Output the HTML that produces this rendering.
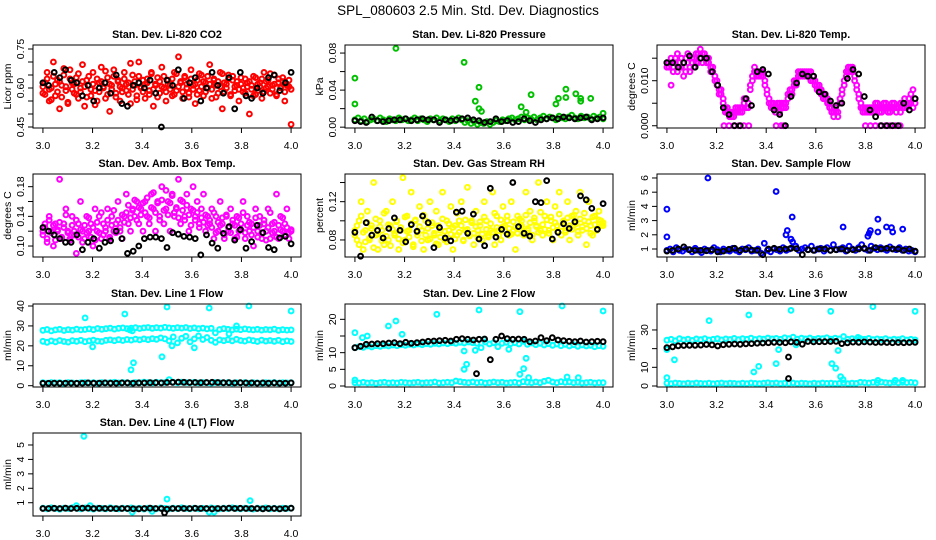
<!DOCTYPE html>
<html><head><meta charset="utf-8">
<style>
html,body{margin:0;padding:0;background:#fff;}
svg{display:block;font-family:"Liberation Sans",sans-serif;}
</style></head>
<body>
<svg id="chart" width="936" height="540" viewBox="0 0 936 540" xmlns="http://www.w3.org/2000/svg">
<rect x="0" y="0" width="936" height="540" fill="#fff"/>
<text x="468" y="15" text-anchor="middle" font-size="13.5">SPL_080603  2.5 Min. Std. Dev. Diagnostics</text>
</svg>
<script>
// ---------- data ----------
const xTicks=[3.0,3.2,3.4,3.6,3.8,4.0];
const xTickLabels=["3.0","3.2","3.4","3.6","3.8","4.0"];

const co2Red=[0.58,0.62,0.66,0.55,0.60,0.70,0.57,0.63,0.52,0.61,0.65,0.59,0.54,0.67,0.62,0.58,0.64,0.56,0.60,0.69,0.53,0.63,0.61,0.57,0.66,0.59,0.55,0.62,0.68,0.60,0.56,0.64,0.51,0.61,0.67,0.58,0.63,0.55,0.60,0.66,0.59,0.62,0.54,0.65,0.61,0.57,0.70,0.60,0.63,0.56,0.62,0.59,0.66,0.53,0.61,0.64,0.58,0.68,0.60,0.55,0.63,0.61,0.57,0.66,0.59,0.72,0.62,0.56,0.64,0.60,0.58,0.67,0.61,0.54,0.63,0.59,0.65,0.57,0.62,0.60,0.69,0.56,0.63,0.61,0.58,0.66,0.52,0.62,0.60,0.65,0.57,0.63,0.59,0.61,0.55,0.64,0.60,0.58,0.62,0.50,0.61,0.57,0.64,0.59,0.62,0.56,0.66,0.60,0.63,0.58,0.61,0.65,0.57,0.62,0.60,0.64,0.55,0.61,0.63,0.46];
const co2Red2=[0.605,0.575,0.635,0.595,0.555,0.645,0.615,0.585,0.625,0.565,0.675,0.605,0.545,0.635,0.595,0.615,0.575,0.655,0.585,0.625,
0.605,0.565,0.645,0.595,0.615,0.535,0.635,0.585,0.625,0.605,0.665,0.575,0.615,0.595,0.645,0.565,0.625,0.605,0.585,0.635,
0.615,0.575,0.695,0.595,0.625,0.555,0.645,0.605,0.585,0.615,0.635,0.575,0.655,0.595,0.615,0.565,0.625,0.605,0.645,0.585,
0.615,0.595,0.635,0.575,0.655,0.605,0.625,0.585,0.645,0.615,0.565,0.635,0.595,0.615,0.575,0.655,0.605,0.625,0.585,0.645,
0.615,0.595,0.635,0.565,0.625,0.605,0.655,0.585,0.615,0.635,0.575,0.645,0.605,0.625,0.595,0.615,0.585,0.635,0.605,0.625,
0.595,0.645,0.575,0.615,0.605,0.635,0.585,0.625,0.605,0.655,0.595,0.615,0.575,0.635,0.605,0.625,0.585,0.615,0.605,0.595];
const co2Black=[0.62,0.61,0.66,0.64,0.67,0.63,0.62,0.57,0.61,0.55,0.60,0.62,0.58,0.65,0.54,0.53,0.61,0.62,0.60,0.63,0.58,0.45,0.63,0.61,0.67,0.56,0.62,0.64,0.55,0.60,0.66,0.61,0.58,0.64,0.52,0.66,0.57,0.56,0.60,0.58,0.64,0.65,0.59,0.62,0.66];

const presGreen=[0.008,0.010,0.007,0.009,0.006,0.008,0.009,0.007,0.010,0.008,0.006,0.009,0.008,0.007,0.010,0.008,0.009,0.007,0.008,0.010,0.007,0.009,0.008,0.006,0.009,0.008,0.010,0.007,0.009,0.008,0.006,0.009,0.007,0.010,0.008,0.005,0.007,0.004,0.006,0.003,0.005,0.004,0.006,0.003,0.005,0.007,0.006,0.008,0.007,0.009,0.010,0.008,0.009,0.011,0.008,0.010,0.009,0.011,0.008,0.010,0.012,0.009,0.011,0.010,0.008,0.012,0.010,0.009,0.011,0.013,0.010,0.009,0.012,0.010,0.011,0.009,0.012,0.010,0.011,0.009];
const presOutX=[3.0,3.0,3.165,3.44,3.485,3.50,3.50,3.51,3.67,3.69,3.71,3.81,3.82,3.85,3.85,3.89,3.91,3.91,3.95,4.0];
const presOutY=[0.053,0.025,0.085,0.070,0.028,0.043,0.020,0.017,0.022,0.016,0.035,0.025,0.031,0.041,0.032,0.036,0.031,0.028,0.031,0.015];
const presBlack=[0.007,0.006,0.005,0.011,0.007,0.006,0.007,0.008,0.008,0.009,0.007,0.008,0.009,0.008,0.008,0.005,0.008,0.007,0.008,0.009,0.010,0.008,0.007,0.005,0.006,0.009,0.006,0.007,0.005,0.006,0.009,0.007,0.005,0.008,0.009,0.010,0.009,0.011,0.010,0.009,0.010,0.011,0.008,0.009,0.010];

const tempMag=[0.013,0.014,0.009,0.013,0.015,0.012,0.014,0.013,0.011,0.015,0.014,0.012,0.015,0.013,0.016,0.014,0.015,0.016,0.015,
0.015,0.014,0.013,0.012,0.011,0.009,0.008,0.007,0.005,0.004,0.003,0.002,
0.003,0.002,0.003,0.004,0.003,0.004,
0.005,0.006,0.004,0.008,0.010,0.012,0.012,0.011,0.012,
0.011,0.010,0.008,0.005,0.004,
0.005,0.003,0.004,0.005,0.004,0.005,0.004,
0.006,0.007,0.008,0.010,0.009,0.011,0.012,0.011,
0.012,0.011,0.012,0.010,0.011,0.009,0.008,0.009,0.007,
0.006,0.007,0.005,0.004,0.003,0.003,0.004,0.002,
0.005,0.007,0.009,0.011,0.012,0.013,0.012,0.010,
0.009,0.006,0.004,0.003,0.003,0.004,0.003,
0.004,0.003,0.005,0.004,0.003,0.004,0.005,0.004,0.003,0.004,0.005,0.004,0.003,0.004,0.005,0.004,0.006,0.004,0.005,0.007,0.004,0.005];
const tempMag2=[0.014,0.013,0.015,0.012,0.014,0.016,0.013,0.015,0.014,0.012,0.016,0.013,0.014,0.015,0.014,0.016,0.017,0.014,0.016,
0.014,0.015,0.012,0.013,0.010,0.010,0.007,0.008,0.006,0.003,0.004,0.003,
0.002,0.003,0.004,0.003,0.004,0.003,
0.006,0.004,0.005,0.009,0.011,0.013,0.011,0.012,0.011,
0.012,0.009,0.007,0.006,0.005,
0.004,0.004,0.005,0.003,0.005,0.004,0.005,
0.007,0.008,0.007,0.009,0.010,0.012,0.011,0.012,
0.011,0.012,0.011,0.012,0.010,0.010,0.009,0.008,0.008,
0.007,0.006,0.006,0.005,0.004,0.002,0.003,0.003,
0.006,0.008,0.010,0.012,0.013,0.012,0.013,0.011,
0.008,0.007,0.005,0.004,0.004,0.003,0.004,
0.003,0.004,0.004,0.005,0.004,0.003,0.004,0.005,0.004,0.003,0.004,0.005,0.004,0.004,0.003,0.005,0.004,0.005,0.006,0.005,0.008,0.006];
const tempZeroX=[3.23,3.25,3.27,3.29,3.31,3.33,3.44,3.46,3.47,3.80,3.82,3.84,3.86,3.88,3.90,3.92,3.94];
const tempBlack=[0.014,0.014,0.013,0.014,0.0155,0.013,0.015,0.015,0.012,0.009,0.004,0.0025,0,0,0.006,0.0045,0.012,0.0125,0.0115,0.0035,0.0025,0,0.0065,0.0095,0.0115,0.011,0.011,0.0075,0.007,0.0055,0.0045,0.005,0.0105,0.0125,0.0115,0.0065,0.0035,0.002,0,0,0,0,0.005,0.0035,0.006];

const ambMag=[0.12,0.13,0.11,0.14,0.12,0.10,0.13,0.12,0.19,0.11,0.13,0.15,0.12,0.11,0.14,0.12,0.09,0.13,0.16,0.12,0.11,0.14,0.12,0.13,0.10,0.15,0.12,0.14,0.11,0.13,0.12,0.15,0.11,0.14,0.12,0.13,0.16,0.12,0.11,0.14,
0.17,0.13,0.12,0.15,0.14,0.16,0.13,0.15,0.12,0.16,0.14,0.13,0.17,0.15,0.12,0.16,0.14,0.18,0.13,0.15,0.16,0.12,0.17,0.14,0.15,0.19,0.13,0.16,0.14,0.17,0.12,0.15,0.18,0.14,0.16,0.13,0.15,0.17,0.12,0.14,
0.13,0.15,0.11,0.14,0.12,0.16,0.13,0.11,0.14,0.12,0.15,0.13,0.11,0.14,0.12,0.13,0.16,0.11,0.14,0.12,0.13,0.10,0.15,0.12,0.14,0.11,0.13,0.12,0.15,0.11,0.13,0.12,0.17,0.11,0.14,0.12,0.13,0.15,0.11,0.12];
const ambMag2=[0.115,0.125,0.105,0.135,0.118,0.128,0.108,0.122,0.132,0.112,0.125,0.142,0.118,0.108,0.128,0.115,0.135,0.112,0.122,0.105,
0.128,0.118,0.138,0.112,0.125,0.108,0.132,0.118,0.145,0.115,0.125,0.135,0.112,0.128,0.148,0.118,0.135,0.125,0.142,0.132,
0.145,0.155,0.138,0.148,0.162,0.135,0.152,0.142,0.158,0.145,0.165,0.138,0.152,0.172,0.145,0.158,0.135,0.162,0.148,0.175,
0.142,0.158,0.168,0.145,0.152,0.138,0.162,0.148,0.135,0.155,0.142,0.128,0.148,0.135,0.145,0.125,0.138,0.132,0.142,0.128,
0.135,0.125,0.145,0.118,0.132,0.128,0.138,0.115,0.142,0.125,0.118,0.135,0.128,0.112,0.138,0.122,0.145,0.118,0.128,0.132,
0.115,0.125,0.138,0.112,0.128,0.118,0.135,0.108,0.125,0.145,0.118,0.132,0.112,0.128,0.122,0.138,0.115,0.125,0.118,0.122];
const ambBlack=[0.125,0.12,0.115,0.11,0.105,0.105,0.115,0.095,0.105,0.11,0.097,0.105,0.107,0.12,0.11,0.09,0.093,0.10,0.11,0.112,0.112,0.11,0.098,0.118,0.116,0.113,0.112,0.11,0.088,0.115,0.104,0.097,0.117,0.126,0.108,0.122,0.097,0.106,0.128,0.118,0.098,0.095,0.111,0.113,0.103];

const rhYellow=[0.09,0.08,0.10,0.12,0.07,0.09,0.11,0.08,0.095,0.14,0.085,0.07,0.10,0.09,0.075,0.11,0.08,0.095,0.12,0.085,
0.10,0.07,0.09,0.145,0.08,0.105,0.09,0.13,0.075,0.10,0.085,0.115,0.09,0.07,0.10,0.08,0.12,0.095,0.085,0.11,
0.075,0.09,0.13,0.08,0.10,0.09,0.115,0.07,0.095,0.085,0.10,0.12,0.08,0.09,0.135,0.085,0.10,0.075,0.11,0.09,
0.095,0.08,0.12,0.10,0.085,0.09,0.13,0.075,0.105,0.09,0.08,0.115,0.095,0.10,0.085,0.12,0.09,0.07,0.105,0.095,
0.10,0.085,0.13,0.09,0.11,0.08,0.10,0.095,0.14,0.09,0.085,0.105,0.12,0.09,0.10,0.08,0.115,0.095,0.13,0.085,
0.10,0.09,0.12,0.08,0.105,0.095,0.11,0.085,0.13,0.09,0.10,0.075,0.12,0.095,0.085,0.105,0.09,0.11,0.10,0.095];
const rhYellow2=[0.085,0.095,0.075,0.105,0.088,0.078,0.098,0.082,0.092,0.072,0.102,0.086,0.094,0.079,0.108,0.084,0.096,0.074,0.091,0.087,
0.099,0.081,0.093,0.077,0.104,0.089,0.083,0.097,0.073,0.101,0.088,0.094,0.079,0.106,0.085,0.092,0.081,0.098,0.087,0.076,
0.095,0.083,0.102,0.089,0.078,0.097,0.086,0.093,0.081,0.108,0.088,0.095,0.079,0.101,0.091,0.084,0.098,0.087,0.094,0.082,
0.099,0.086,0.104,0.091,0.083,0.097,0.088,0.108,0.093,0.085,0.101,0.094,0.089,0.105,0.092,0.086,0.099,0.093,0.087,0.102,
0.095,0.089,0.106,0.092,0.098,0.085,0.103,0.094,0.088,0.109,0.096,0.091,0.101,0.087,0.104,0.093,0.098,0.089,0.107,0.094,
0.099,0.088,0.103,0.095,0.091,0.106,0.097,0.089,0.102,0.094,0.108,0.092,0.099,0.087,0.104,0.096,0.091,0.101,0.095,0.098];
const rhBlack=[0.088,0.063,0.098,0.085,0.09,0.082,0.092,0.103,0.09,0.078,0.096,0.089,0.105,0.098,0.072,0.093,0.082,0.079,0.109,0.11,0.087,0.107,0.081,0.074,0.134,0.083,0.091,0.086,0.14,0.094,0.087,0.084,0.12,0.119,0.142,0.081,0.088,0.097,0.092,0.099,0.126,0.122,0.113,0.091,0.118];

const flowBlue=[0.9,1.0,0.8,1.1,0.9,0.85,1.0,0.95,0.8,1.05,0.9,0.75,1.0,0.9,0.85,1.1,0.95,0.8,1.0,0.9,0.85,1.05,0.9,0.8,1.0,0.95,1.1,0.85,0.9,1.0,0.7,1.4,0.9,0.8,1.0,0.95,0.85,1.1,0.9,1.0,1.5,1.2,0.9,1.0,1.1,0.95,1.2,0.9,1.0,1.05,0.85,1.1,0.9,1.3,0.95,1.0,1.1,0.85,1.2,1.0,0.9,1.1,1.3,1.0,0.9,1.2,1.05,0.95,1.1,1.0,0.9,1.15,1.0,0.95,1.1,0.9,1.0,0.85,0.9,0.8];
const flowOutX=[3.0,3.0,3.165,3.44,3.48,3.485,3.50,3.505,3.71,3.81,3.815,3.82,3.85,3.85,3.885,3.905,3.91,3.95];
const flowOutY=[3.8,1.85,6.0,5.05,2.0,2.3,1.7,3.25,2.55,1.9,2.1,2.3,3.1,2.2,2.55,2.5,2.2,2.4];
const flowBlack=[0.85,0.9,1.0,1.15,0.95,0.9,0.9,0.88,0.95,0.8,0.85,0.98,1.05,0.9,1.0,0.93,0.9,0.6,1.0,1.05,0.98,1.0,1.05,1.02,0.6,0.95,0.9,1.0,1.0,0.9,0.95,1.0,0.9,0.95,1.0,1.05,0.9,1.1,1.0,1.05,1.0,1.0,0.9,1.0,0.85];

const l1Top=[27.8,28.2,27.5,28.0,28.3,27.7,28.1,27.9,28.4,28.0,28.2,28.5,28.1,28.7,28.3,28.6,28.9,28.4,28.8,29.0,28.6,28.9,29.1,28.7,29.0,29.2,28.8,29.1,28.9,29.3,29.0,28.8,29.1,28.9,29.2,28.7,29.0,28.6,28.9,28.5,28.8,26.5,28.2,28.6,28.3,28.0,28.4,28.1,28.5,28.2,28.0,28.3,27.9,28.2,28.0,28.4,27.8,28.1,27.9,28.0];
const l1Mid=[22.3,21.8,22.5,22.0,22.7,22.2,21.9,22.6,22.3,22.8,22.1,22.5,22.9,22.4,22.2,22.8,23.0,22.6,23.1,22.7,23.2,22.9,23.4,23.0,23.5,23.1,23.6,23.3,24.0,23.5,22.5,24.5,21.5,23.8,24.8,22.0,23.5,25.0,23.2,24.2,22.8,21.8,23.0,22.6,23.1,22.5,23.3,22.7,22.4,23.0,22.6,22.2,22.9,22.4,22.7,22.3,22.8,22.1,22.5,22.2];
const l1Low=[1.5,1.3,1.6,1.4,1.5,1.2,1.6,1.4,1.3,1.5,1.6,1.4,1.5,1.3,1.6,1.4,1.5,1.7,1.4,1.6,1.5,1.3,1.6,1.5,1.8,1.6,1.4,1.7,1.5,1.6,3.0,1.7,1.5,1.8,1.6,1.5,1.7,1.4,1.6,1.5,1.3,1.6,1.5,1.4,1.6,1.3,1.5,1.4,1.6,1.3,1.5,1.4,1.3,1.5,1.4,1.6,1.3,1.5,1.4,1.5];
const l1OutX=[3.17,3.33,3.2,3.35,3.36,3.355,3.365,3.48,3.5,3.52,3.61,3.67,3.78,3.83,4.0,3.75];
const l1OutY=[34,36,19.5,28,27.5,8,11.5,14.5,39.5,20,19,39,30,40,37.5,26];
const l1Black=[1.2,1.2,1.3,1.2,1.3,1.3,1.2,1.3,1.4,1.3,1.3,1.4,1.3,1.3,1.4,1.4,1.3,1.4,1.4,1.5,1.5,1.4,1.6,1.7,1.8,1.7,1.6,1.6,1.5,1.6,1.7,1.6,1.5,1.5,1.4,1.5,1.4,1.4,1.3,1.4,1.3,1.4,1.3,1.3,1.4];

const l2Band=[11.5,11.8,11.6,12.0,11.7,12.1,11.9,12.2,12.0,12.3,12.1,12.4,12.2,12.5,12.3,12.6,12.4,12.7,12.5,12.8,12.6,12.9,12.7,13.0,12.8,13.1,12.9,13.2,13.0,12.8,11.5,13.2,12.6,13.0,11.8,12.8,13.1,12.7,13.0,12.6,13.4,12.5,12.9,12.4,12.8,12.3,12.7,12.2,12.6,12.1,12.5,12.0,12.4,11.9,12.3,12.0,12.2,11.8,12.1,11.9];
const l2Low=[1.0,0.9,1.1,0.9,1.0,0.8,1.0,1.1,0.9,1.0,0.9,1.1,1.0,0.9,1.0,1.1,0.9,1.0,1.0,1.2,0.9,1.0,1.1,1.0,1.5,1.3,1.1,1.0,1.2,1.0,1.1,0.9,1.0,1.2,1.0,1.1,0.9,1.0,1.1,0.9,1.3,1.1,1.0,1.2,1.0,1.4,1.7,1.2,1.0,1.3,1.1,1.2,1.0,1.1,0.9,1.0,1.1,0.9,1.0,1.0];
const l2OutX=[3.0,3.03,3.05,3.135,3.165,3.19,3.33,3.44,3.44,3.45,3.485,3.5,3.52,3.62,3.665,3.665,3.68,3.69,3.70,3.835,3.855,3.9,4.0,3.0];
const l2OutY=[16,14.5,15,18,19.5,15.5,21.5,10.5,5,6.5,10.7,22.8,14,11,22.3,3.5,5.2,8.3,2.5,24,2.7,2.5,22.5,1.8];
const l2Black=[11.5,11.9,12.5,12.6,12.7,12.7,12.9,13.0,12.7,13.1,12.8,13.0,13.2,13.4,13.5,13.6,13.7,13.5,14.0,14.2,14.0,13.8,14.0,14.1,7.9,14.0,15.0,14.2,14.0,14.1,14.0,13.3,13.5,14.5,13.6,14.5,13.8,13.6,13.4,13.3,13.5,13.2,13.3,13.4,13.3];
const l2BlackOutX=[3.49];
const l2BlackOutY=[3.7];

const l3Band=[24.5,25.0,24.2,25.3,24.7,25.1,24.4,25.2,24.8,25.4,24.6,25.0,25.3,24.7,25.2,24.9,25.5,24.8,25.3,25.0,25.6,24.9,25.4,25.1,25.7,25.2,25.5,25.0,25.8,25.3,26.2,25.1,25.6,25.2,25.7,25.0,25.5,25.3,25.8,25.1,25.6,25.2,26.5,25.0,25.4,24.9,25.3,25.0,25.5,24.8,25.2,24.9,25.4,24.7,25.1,24.8,25.3,24.6,25.0,24.7];
const l3Low=[1.5,1.3,1.6,1.4,1.2,1.5,1.3,1.6,1.4,1.3,1.5,1.2,1.4,1.6,1.3,1.5,1.4,1.2,1.5,1.3,1.6,1.4,1.3,1.5,1.7,1.4,1.6,1.3,1.5,1.4,1.6,1.3,1.5,1.4,1.2,1.5,1.3,1.6,1.4,1.5,1.3,1.4,1.6,1.3,1.5,1.4,2.0,1.8,1.6,1.9,1.7,2.1,1.8,1.6,1.9,1.7,2.0,1.8,1.9,1.7];
const l3OutX=[3.0,3.0,3.03,3.17,3.33,3.35,3.37,3.44,3.45,3.5,3.52,3.66,3.665,3.68,3.69,3.70,3.71,3.77,3.83,3.85,3.92,4.0,3.95];
const l3OutY=[4.5,19.5,14,35,38,7.5,10.5,12,19.5,40.5,22,40,12,9.5,19,5,3.5,26,42.5,3,3,40,3];
const l3Black=[20.5,21.0,21.5,21.7,21.8,21.8,21.9,22.2,22.0,21.4,22.1,22.3,22.5,22.3,22.6,22.7,22.9,23.0,23.2,23.4,23.3,23.2,23.6,23.4,22.4,23.8,23.6,23.7,23.7,23.8,23.9,22.7,23.1,23.5,23.4,23.6,23.5,23.3,23.4,23.3,23.2,23.3,23.2,23.3,23.4];
const l3BlackOutX=[3.49,3.49];
const l3BlackOutY=[15.5,4];

const l4Band=[0.62,0.58,0.65,0.60,0.55,0.63,0.59,0.66,0.61,0.57,0.64,0.60,0.56,0.63,0.61,0.58,0.65,0.60,0.57,0.62,0.59,0.64,0.58,0.61,0.56,0.63,0.60,0.57,0.64,0.61,0.58,0.62,0.59,0.65,0.60,0.57,0.63,0.58,0.61,0.56,0.64,0.60,0.57,0.62,0.59,0.65,0.61,0.58,0.63,0.60,0.56,0.62,0.59,0.64,0.58,0.61,0.57,0.63,0.60,0.62];
const l4OutX=[3.165,3.5,3.835,3.135,3.19,3.36,3.44,3.67,3.69];
const l4OutY=[5.6,1.25,1.15,0.8,0.8,0.35,0.4,0.35,0.35];
const l4Black=[0.6,0.6,0.61,0.6,0.62,0.6,0.61,0.62,0.63,0.6,0.61,0.6,0.6,0.59,0.6,0.6,0.58,0.58,0.6,0.62,0.6,0.6,0.55,0.6,0.6,0.6,0.6,0.61,0.6,0.6,0.58,0.6,0.6,0.62,0.6,0.61,0.6,0.6,0.6,0.58,0.6,0.6,0.58,0.6,0.62];
const l4BlackOutX=[3.49];
const l4BlackOutY=[0.3];

// ---------- layout ----------
const SVGNS="http://www.w3.org/2000/svg";
const svg=document.getElementById('chart');
const cols=[[33,301],[345,613],[657,925]];
const rows=[[45,128],[174,257],[304,387],[433,516]];

function seq(vals){return vals.map((v,i)=>[3+i/(vals.length-1),v]);}
function pairs(xs,ys){return xs.map((x,i)=>[x,ys[i]]);}

const panels=[
 {name:'co2',title:'Stan. Dev. Li-820 CO2',yl:'Licor ppm',c:0,r:0,lo:0.4462,hi:0.7654,ticks:[0.45,0.5,0.55,0.6,0.65,0.7,0.75],labs:{0.45:'0.45',0.6:'0.60',0.75:'0.75'},
  series:[['#ff0000',seq(co2Red)],['#ff0000',seq(co2Red2)],['#000',seq(co2Black)]]},
 {name:'pressure',title:'Stan. Dev. Li-820 Pressure',yl:'kPa',c:1,r:0,lo:-0.0009,hi:0.0887,ticks:[0,0.02,0.04,0.06,0.08],labs:{0:'0.00',0.04:'0.04',0.08:'0.08'},
  series:[['#00c000',seq(presGreen)],['#00c000',pairs(presOutX,presOutY)],['#000',seq(presBlack)]]},
 {name:'temp',title:'Stan. Dev. Li-820 Temp.',yl:'degrees C',c:2,r:0,lo:-0.0005,hi:0.01793,ticks:[0,0.005,0.01,0.015],labs:{0:'0.000',0.01:'0.010'},
  series:[['#ff00ff',seq(tempMag)],['#ff00ff',seq(tempMag2)],['#ff00ff',tempZeroX.map(x=>[x,0])],['#000',seq(tempBlack)]]},
 {name:'amb-box',title:'Stan. Dev. Amb. Box Temp.',yl:'degrees C',c:0,r:1,lo:0.0852,hi:0.1971,ticks:[0.1,0.12,0.14,0.16,0.18],labs:{0.1:'0.10',0.14:'0.14',0.18:'0.18'},
  series:[['#ff00ff',seq(ambMag)],['#ff00ff',seq(ambMag2)],['#000',seq(ambBlack)]]},
 {name:'rh',title:'Stan. Dev. Gas Stream RH',yl:'percent',c:1,r:1,lo:0.0622,hi:0.1489,ticks:[0.08,0.1,0.12,0.14],labs:{0.08:'0.08',0.12:'0.12'},
  series:[['#ffff00',seq(rhYellow)],['#ffff00',seq(rhYellow2)],['#000',seq(rhBlack)]]},
 {name:'sample-flow',title:'Stan. Dev. Sample Flow',yl:'ml/min',c:2,r:1,lo:0.437,hi:6.28,ticks:[1,2,3,4,5,6],labs:{1:'1',2:'2',3:'3',4:'4',5:'5',6:'6'},
  series:[['#0000ff',seq(flowBlue)],['#0000ff',pairs(flowOutX,flowOutY)],['#000',seq(flowBlack)]]},
 {name:'line1',title:'Stan. Dev. Line 1 Flow',yl:'ml/min',c:0,r:2,lo:-0.65,hi:41,ticks:[0,10,20,30,40],labs:{0:'0',10:'10',20:'20',30:'30',40:'40'},
  series:[['#00ffff',seq(l1Top)],['#00ffff',seq(l1Mid)],['#00ffff',seq(l1Low)],['#00ffff',pairs(l1OutX,l1OutY)],['#000',seq(l1Black)]]},
 {name:'line2',title:'Stan. Dev. Line 2 Flow',yl:'ml/min',c:1,r:2,lo:-0.3,hi:24.6,ticks:[0,5,10,15,20],labs:{0:'0',5:'5',10:'10',20:'20'},
  series:[['#00ffff',seq(l2Band)],['#00ffff',seq(l2Low)],['#00ffff',pairs(l2OutX,l2OutY)],['#000',seq(l2Black)],['#000',pairs(l2BlackOutX,l2BlackOutY)]]},
 {name:'line3',title:'Stan. Dev. Line 3 Flow',yl:'ml/min',c:2,r:2,lo:-0.54,hi:43.9,ticks:[0,10,20,30],labs:{0:'0',10:'10',30:'30'},
  series:[['#00ffff',seq(l3Band)],['#00ffff',seq(l3Low)],['#00ffff',pairs(l3OutX,l3OutY)],['#000',seq(l3Black)],['#000',pairs(l3BlackOutX,l3BlackOutY)]]},
 {name:'line4',title:'Stan. Dev. Line 4 (LT) Flow',yl:'ml/min',c:0,r:3,lo:0.08,hi:5.83,ticks:[1,2,3,4,5],labs:{1:'1',2:'2',3:'3',4:'4',5:'5'},
  series:[['#00ffff',seq(l4Band)],['#00ffff',pairs(l4OutX,l4OutY)],['#000',seq(l4Black)],['#000',pairs(l4BlackOutX,l4BlackOutY)]]}
];

function mk(tag,attrs,parent){const e=document.createElementNS(SVGNS,tag);for(const k in attrs)e.setAttribute(k,attrs[k]);(parent||svg).appendChild(e);return e;}

panels.forEach(p=>{
  const [L,R]=cols[p.c],[T,B]=rows[p.r];
  const xs=v=>L+(v-2.96)/(1.08)*(R-L);
  const ys=v=>B-(v-p.lo)/(p.hi-p.lo)*(B-T);
  const g=mk('g',{});
  
  
  const t=mk('text',{x:(L+R)/2,y:T-7,'text-anchor':'middle','font-size':'10.7','font-weight':'bold'},g);
  t.textContent=p.title;
  
  
  const yt=mk('text',{x:0,y:0,'text-anchor':'middle','font-size':'10.5',transform:`translate(${L-22},${(T+B)/2}) rotate(-90)`},g);
  yt.textContent=p.yl;
  
  
  const pg=mk('g',{fill:'none','stroke-width':'2'},g);
  
  
  p.series.forEach(([col,pts])=>{
    pts.forEach(([x,y])=>{
      const c=mk('circle',{cx:xs(x).toFixed(1),cy:ys(y).toFixed(1),r:'2.4',stroke:col},pg);
      
      
    });
  });
  const box=mk('rect',{x:L,y:T,width:R-L,height:B-T,fill:'none',stroke:'#000','stroke-width':'1'},g);
  
  
  const xa=mk('g',{},g);
  
  
  mk('line',{x1:xs(xTicks[0]),x2:xs(xTicks[xTicks.length-1]),y1:B,y2:B,stroke:'#000'},xa);
  xTicks.forEach((v,i)=>{
    mk('line',{x1:xs(v),x2:xs(v),y1:B,y2:B+5,stroke:'#000'},xa);
    const tl=mk('text',{x:xs(v),y:B+21,'text-anchor':'middle','font-size':'10.5'},xa);
    tl.textContent=xTickLabels[i];
  });
  const ya=mk('g',{},g);
  
  
  mk('line',{x1:L,x2:L,y1:ys(p.ticks[0]),y2:ys(p.ticks[p.ticks.length-1]),stroke:'#000'},ya);
  p.ticks.forEach(v=>{
    mk('line',{x1:L-5,x2:L,y1:ys(v),y2:ys(v),stroke:'#000'},ya);
    if(p.labs[v]!==undefined){
      const tl=mk('text',{x:0,y:0,'text-anchor':'middle','font-size':'10.5',transform:`translate(${L-9},${ys(v)}) rotate(-90)`},ya);
      tl.textContent=p.labs[v];
    }
  });
});
</script>
</body></html>
